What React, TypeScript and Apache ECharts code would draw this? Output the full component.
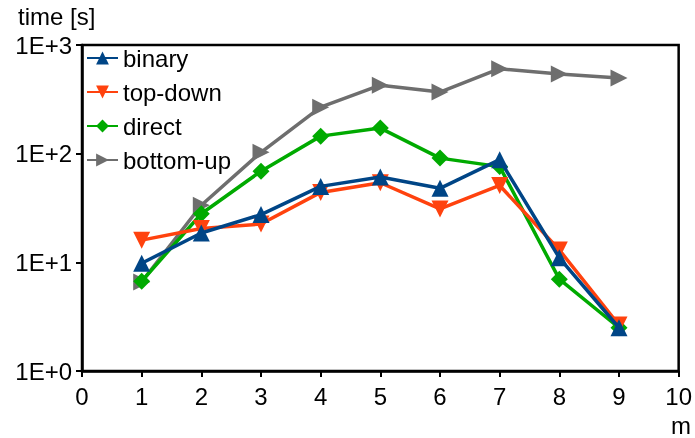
import React, { useEffect, useRef } from "react";
import * as echarts from "echarts";

const mValues = [1, 2, 3, 4, 5, 6, 7, 8, 9];
const binary = [9.8, 18.6, 27.5, 50, 61, 48, 88, 11, 2.5];
const topDown = [16, 20.5, 22.5, 44, 54, 31, 51, 13, 2.65];
const direct = [6.7, 28, 69, 145, 172, 91, 76, 7, 2.5];
const bottomUp = [6.6, 33.5, 103, 268, 427, 369, 605, 540, 496];
const seriesNames = ["binary", "top-down", "direct", "bottom-up"];

const FONT = "Liberation Sans, Arial, sans-serif";
const FS = 24;

export default function App() {
  const ref = useRef<HTMLDivElement>(null);
  useEffect(() => {
    if (!ref.current) return;
    const chart = echarts.init(ref.current, undefined, { renderer: "svg" });
    const mk = (vals: number[]) => mValues.map((m, i) => [m, vals[i]]);
    const common = {
      type: "line",
      lineStyle: { width: 3.5 },
      symbolSize: 17,
      z: 3,
    };
    chart.setOption({
      animation: false,
      textStyle: { fontFamily: FONT },
      grid: {
        left: 82,
        right: 14,
        top: 45,
        bottom: 67,
        show: true,
        borderColor: "#000",
        borderWidth: 2.5,
      },
      legend: {
        orient: "vertical",
        left: 86,
        top: 46,
        padding: 0,
        itemWidth: 31,
        itemHeight: 16,
        itemGap: 10,
        textStyle: { fontSize: FS, lineHeight: 24, color: "#000", fontFamily: FONT },
        data: seriesNames,
      },
      xAxis: {
        type: "value",
        min: 0,
        max: 10,
        interval: 1,
        splitLine: { show: false },
        axisLine: { lineStyle: { color: "#000", width: 2.5 } },
        axisTick: { show: true, length: 6, lineStyle: { color: "#000", width: 2 } },
        axisLabel: { fontSize: FS, color: "#000", margin: 13, fontFamily: FONT },
      },
      yAxis: {
        type: "log",
        logBase: 10,
        min: 1,
        max: 1000,
        splitLine: { show: false },
        minorTick: { show: false },
        axisLine: { show: true, lineStyle: { color: "#000", width: 2.5 } },
        axisTick: { show: true, length: 6, lineStyle: { color: "#000", width: 2 } },
        axisLabel: {
          fontSize: FS,
          color: "#000",
          margin: 10,
          fontFamily: FONT,
          formatter: (v: number) => "1E+" + Math.round(Math.log10(v)),
        },
      },
      graphic: [
        { type: "text", left: 18, top: 4, style: { text: "time [s]", fontSize: FS, fontFamily: FONT, fill: "#000" } },
        { type: "text", left: 671, top: 413, style: { text: "m", fontSize: FS, fontFamily: FONT, fill: "#000" } },
      ],
      series: [
        { ...common, name: "bottom-up", data: mk(bottomUp), color: "#6e6e6e", symbol: "triangle", symbolRotate: -90, z: 2 },
        { ...common, name: "direct", data: mk(direct), color: "#00aa00", symbol: "diamond" },
        { ...common, name: "top-down", data: mk(topDown), color: "#ff420e", symbol: "triangle", symbolRotate: 180 },
        { ...common, name: "binary", data: mk(binary), color: "#004586", symbol: "triangle", z: 4 },
      ],
    });
    return () => chart.dispose();
  }, []);
  return <div ref={ref} style={{ position: "fixed", left: 0, top: 0, width: 695, height: 438 }} />;
}
